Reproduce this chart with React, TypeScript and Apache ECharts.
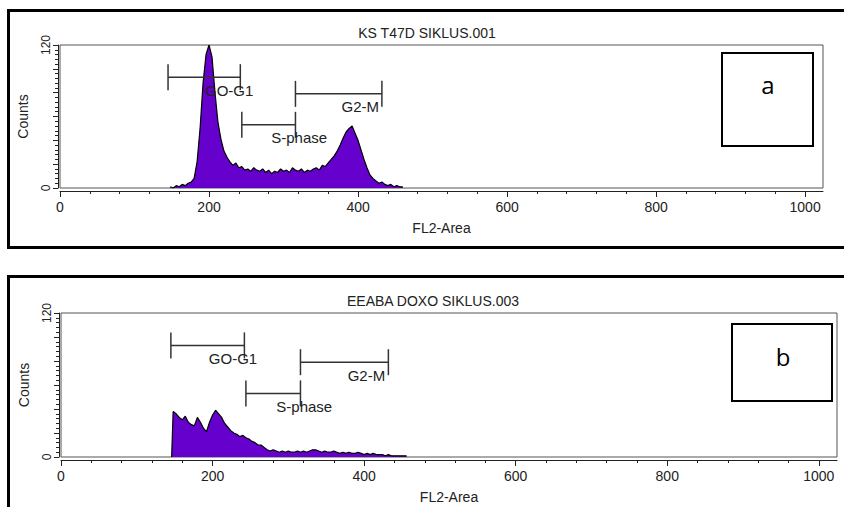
import React, { useEffect, useRef } from 'react';
import * as echarts from 'echarts';

const FONT = '"Liberation Sans", Arial, sans-serif';

// Panel titles
const panelTitles = ['KS T47D SIKLUS.001', 'EEABA DOXO SIKLUS.003'];
const panelTags = ['a', 'b'];

// X axis ticks (FL2-Area channels)
const xLabelValues = [0, 200, 400, 600, 800, 1000];
const xMinorTickValues = [
  0, 40, 80, 120, 160, 200, 240, 280, 320, 360, 400, 440, 480, 520, 560, 600, 640,
  680, 720, 760, 800, 840, 880, 920, 960, 1000,
];
const yLabelValues = [0, 120];

// Top histogram (KS T47D)
const topChannels = [
  148, 152, 156, 160, 164, 168, 172, 176, 180, 184,
  188, 192, 196, 200, 204, 208, 212, 216, 220, 224,
  228, 232, 236, 240, 244, 248, 252, 256, 260, 264,
  268, 272, 276, 280, 284, 288, 292, 296, 300, 304,
  308, 312, 316, 320, 324, 328, 332, 336, 340, 344,
  348, 352, 356, 360, 364, 368, 372, 376, 380, 384,
  388, 392, 396, 400, 404, 408, 412, 416, 420, 424,
  428, 432, 436, 440, 444, 448, 452, 456, 460,
];
const topCounts = [
  1, 0, 2, 1, 3, 2, 4, 5, 8, 22,
  50, 88, 112, 120, 110, 80, 55, 41, 31, 26,
  22, 19, 21, 17, 18, 15, 16, 14, 17, 15,
  14, 16, 13, 15, 12, 14, 13, 16, 14, 15,
  13, 17, 15, 14, 16, 13, 15, 14, 16, 17,
  15, 19, 18, 21, 24, 27, 31, 36, 42, 47,
  50, 52, 46, 40, 32, 24, 17, 11, 8, 6,
  4, 5, 3, 2, 3, 1, 2, 1, 1,
];

// Bottom histogram (EEABA DOXO)
const bottomChannels = [
  146,
  148, 152, 156, 160, 164, 168, 172, 176, 180, 184,
  188, 192, 196, 200, 204, 208, 212, 216, 220, 224,
  228, 232, 236, 240, 244, 248, 252, 256, 260, 264,
  268, 272, 276, 280, 284, 288, 292, 296, 300, 304,
  308, 312, 316, 320, 324, 328, 332, 336, 340, 344,
  348, 352, 356, 360, 364, 368, 372, 376, 380, 384,
  388, 392, 396, 400, 404, 408, 412, 416, 420, 424,
  428, 432, 436, 440, 444, 448, 452, 456,
];
const bottomCounts = [
  0,
  38, 36, 33, 31, 34, 29, 27, 26, 33, 29,
  24, 21, 29, 35, 39, 36, 33, 28, 25, 22,
  20, 19, 17, 18, 16, 15, 13, 12, 10, 10,
  8, 6, 5, 6, 5, 4, 5, 4, 5, 4,
  4, 5, 4, 5, 4, 5, 6, 6, 5, 4,
  5, 4, 4, 5, 4, 3, 4, 3, 4, 3,
  3, 4, 3, 2, 3, 2, 3, 2, 2, 2,
  1, 2, 1, 1, 1, 1, 1, 1,
];

// Gate markers (channel ranges, marker height in counts, label centre channel)
const gateNames = ['GO-G1', 'S-phase', 'G2-M'];
const gateStart = [145, 244, 316];
const gateEnd = [242, 316, 432];
const gateLevel = [93, 53, 79];
const gateLabelAt = [227, 321, 403];

const grids = [
  { left: 60, top: 45, width: 763, height: 143 },
  { left: 61, top: 313, width: 776, height: 144 },
];

export default function App() {
  const ref = useRef<HTMLDivElement>(null);

  useEffect(() => {
    document.body.style.margin = '0';
    const chart = echarts.init(ref.current!, null, { renderer: 'svg' });

    const histos = [
      topChannels.map((c, i) => [c, topCounts[i]]),
      bottomChannels.map((c, i) => [c, bottomCounts[i]]),
    ];
    const gateData = gateNames.map((_, i) => [gateStart[i], gateEnd[i], gateLevel[i], gateLabelAt[i]]);

    const xAxis: any[] = [];
    const yAxis: any[] = [];
    const series: any[] = [];

    grids.forEach((_, p) => {
      xAxis.push({
        type: 'value',
        gridIndex: p,
        min: 0,
        max: 1024,
        interval: 200,
        position: 'bottom',
        offset: 3,
        axisLine: { show: true, onZero: false, lineStyle: { color: '#222', width: 1 } },
        axisTick: { show: true, length: 3, customValues: xMinorTickValues, lineStyle: { color: '#222' } },
        axisLabel: {
          show: true,
          customValues: xLabelValues,
          formatter: (v: number) => (v % 200 === 0 && v <= 1000 ? String(v) : ''),
          margin: 9,
          fontSize: 14,
          fontFamily: FONT,
          color: '#222',
        },
        splitLine: { show: false },
        name: 'FL2-Area',
        nameLocation: 'middle',
        nameGap: 30,
        nameTextStyle: { fontSize: 14, fontFamily: FONT, color: '#222' },
      });
      xAxis.push({
        type: 'value',
        gridIndex: p,
        min: 0,
        max: 1024,
        interval: 200,
        position: 'bottom',
        offset: 3,
        axisLine: { show: false, onZero: false },
        axisTick: { show: true, length: 6, customValues: xLabelValues, lineStyle: { color: '#222' } },
        axisLabel: { show: false },
        splitLine: { show: false },
      });
      yAxis.push({
        type: 'value',
        gridIndex: p,
        min: 0,
        max: 120,
        interval: 20,
        offset: 2,
        axisLine: { show: true, onZero: false, lineStyle: { color: '#222', width: 1 } },
        axisTick: { show: true, length: 5, lineStyle: { color: '#222' } },
        minorTick: { show: true, splitNumber: 5, length: 3, lineStyle: { color: '#222' } },
        axisLabel: {
          rotate: 90,
          customValues: yLabelValues,
          formatter: (v: number) => (v === 0 || v === 120 ? String(v) : ''),
          margin: 6,
          fontSize: 12,
          fontFamily: FONT,
          color: '#222',
        },
        splitLine: { show: false },
        minorSplitLine: { show: false },
        name: 'Counts',
        nameLocation: 'middle',
        nameRotate: 90,
        nameGap: 28,
        nameTextStyle: { fontSize: 14, fontFamily: FONT, color: '#222' },
      });
      series.push({
        type: 'line',
        xAxisIndex: 2 * p,
        yAxisIndex: p,
        data: histos[p],
        symbol: 'none',
        silent: true,
        z: 2,
        lineStyle: { color: '#000', width: 1.2 },
        areaStyle: { color: '#6600cc', opacity: 1 },
      });
      series.push({
        type: 'custom',
        xAxisIndex: 2 * p,
        yAxisIndex: p,
        data: gateData,
        silent: true,
        z: 10,
        renderItem: (params: any, api: any) => {
          const s = api.coord([api.value(0), api.value(2)]);
          const e = api.coord([api.value(1), api.value(2)]);
          const l = api.coord([api.value(3), api.value(2)]);
          const h = 13;
          const ls = { stroke: '#333', lineWidth: 1.5 };
          return {
            type: 'group',
            children: [
              { type: 'line', shape: { x1: s[0], y1: s[1], x2: e[0], y2: e[1] }, style: ls },
              { type: 'line', shape: { x1: s[0], y1: s[1] - h, x2: s[0], y2: s[1] + h }, style: ls },
              { type: 'line', shape: { x1: e[0], y1: e[1] - h, x2: e[0], y2: e[1] + h }, style: ls },
              {
                type: 'text',
                x: l[0],
                y: l[1] + 13,
                z2: 20,
                style: {
                  text: gateNames[params.dataIndex],
                  fontSize: 15,
                  fontFamily: FONT,
                  fill: '#222',
                  align: 'center',
                  verticalAlign: 'middle',
                },
              },
            ],
          };
        },
      });
    });

    const textStyle = (text: string, size: number, family = FONT) => ({
      text,
      fontSize: size,
      fontFamily: family,
      fill: '#222',
      align: 'center',
      verticalAlign: 'middle',
    });

    chart.setOption({
      animation: false,
      backgroundColor: '#fff',
      grid: grids.map((g) => ({ ...g, show: true, borderColor: '#555', borderWidth: 1, backgroundColor: '#fff' })),
      xAxis,
      yAxis,
      series,
      graphic: [
        { type: 'rect', shape: { x: 8.5, y: 10.5, width: 860, height: 237 }, style: { fill: 'none', stroke: '#000', lineWidth: 3 } },
        { type: 'rect', shape: { x: 8.5, y: 276.5, width: 860, height: 260 }, style: { fill: 'none', stroke: '#000', lineWidth: 3 } },
        { type: 'text', x: 427, y: 33, style: textStyle(panelTitles[0], 14) },
        { type: 'text', x: 433, y: 301, style: textStyle(panelTitles[1], 14) },
        { type: 'rect', shape: { x: 722, y: 53, width: 91, height: 93 }, style: { fill: '#fff', stroke: '#000', lineWidth: 2 } },
        { type: 'text', x: 768, y: 84, style: { ...textStyle(panelTags[0], 24, '"Open Sans", sans-serif'), fill: '#000' } },
        { type: 'rect', shape: { x: 732, y: 324, width: 100, height: 77 }, style: { fill: '#fff', stroke: '#000', lineWidth: 2 } },
        { type: 'text', x: 783, y: 356, style: { ...textStyle(panelTags[1], 24, '"Open Sans", sans-serif'), fill: '#000' } },
      ],
    });

    return () => chart.dispose();
  }, []);

  return <div ref={ref} style={{ position: 'absolute', left: 0, top: 0, width: 844, height: 507 }} />;
}
